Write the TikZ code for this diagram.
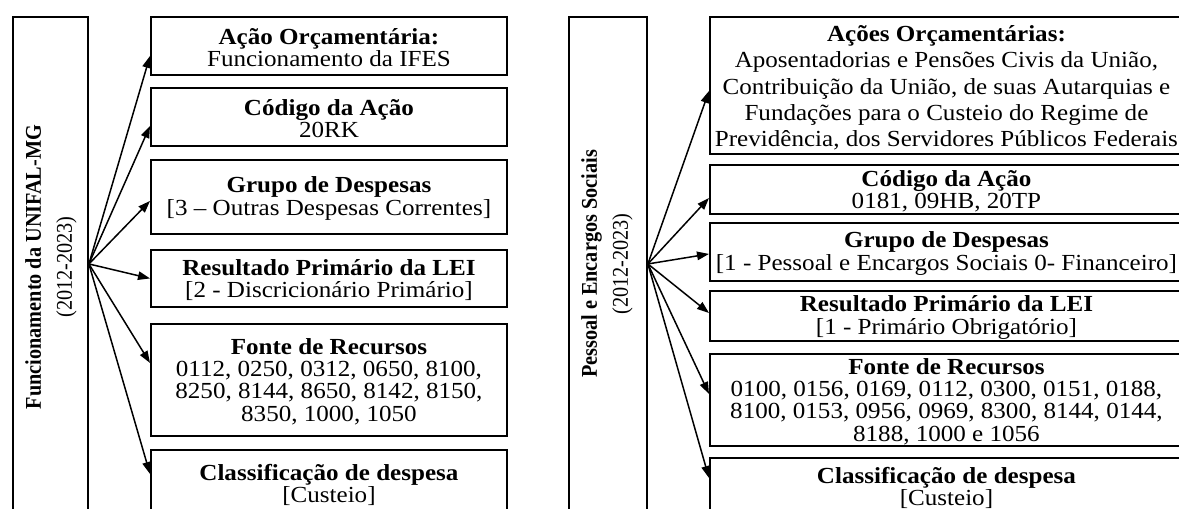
\documentclass[tikz,border=0pt]{standalone}
\usepackage{fontspec}
\setmainfont[FakeStretch=1.09]{Liberation Serif}
\newfontfamily\rotfont[FakeStretch=0.9]{Liberation Serif}
\usetikzlibrary{arrows.meta}
\begin{document}
\begin{tikzpicture}[x=1pt,y=-1pt,
  box/.style={draw, line width=1.9pt, inner sep=0pt, align=center, anchor=north west,
    font=\fontsize{23}{22.3}\selectfont},
  side/.style={rotate=90, align=center, font=\rotfont\fontsize{22.5}{31}\selectfont},
  arr/.style={line width=1.5pt, -{Triangle[length=12pt,width=8.5pt]}}]
\useasboundingbox (0,0) rectangle (1179,509);
\clip (0,0) rectangle (1179,509);
% ---------- left panel ----------
\node[box, minimum width=75pt, minimum height=510pt] (L) at (12,16) {};
\node[side] (Lt) at (51,267) {\textbf{Funcionamento da UNIFAL-MG}\\(2012-2023)};
\node[box, minimum width=356pt, minimum height=58pt] (l1) at (150,16)
  {\rule{0pt}{19pt}\textbf{Ação Orçamentária:}\\Funcionamento da IFES};
\node[box, minimum width=356pt, minimum height=58pt] (l2) at (150,87)
  {\rule{0pt}{19pt}\textbf{Código da Ação}\\20RK};
\node[box, minimum width=356pt, minimum height=74pt] (l3) at (150,159)
  {\rule{0pt}{19pt}\textbf{Grupo de Despesas}\\{[3 – Outras Despesas Correntes]}};
\node[box, minimum width=356pt, minimum height=57pt] (l4) at (150,249)
  {\rule{0pt}{19pt}\textbf{Resultado Primário da LEI}\\{[2 - Discricionário Primário]}};
\node[box, minimum width=356pt, minimum height=112pt] (l5) at (150,323)
  {\rule{0pt}{19pt}\textbf{Fonte de Recursos}\\0112, 0250, 0312, 0650, 8100,\\8250, 8144, 8650, 8142, 8150,\\8350, 1000, 1050};
\node[box, minimum width=356pt, minimum height=67pt] (l6) at (150,449)
  {\rule{0pt}{19pt}\textbf{Classificação de despesa}\\{[Custeio]}};
\coordinate (ls) at ([yshift=8pt]L.east);
\draw[arr] (ls) -- ([yshift=-10pt]l1.west);
\draw[arr] (ls) -- ([yshift=-9pt]l2.west);
\draw[arr] (ls) -- ([yshift=-4pt]l3.west);
\draw[arr] (ls) -- (l4.west);
\draw[arr] (ls) -- ([yshift=17pt]l5.west);
\draw[arr] (ls) -- ([yshift=9.5pt]l6.west);
% ---------- right panel ----------
\node[box, minimum width=78pt, minimum height=510pt] (R) at (568,16) {};
\node[side] (Rt) at (607,264) {\textbf{Pessoal e Encargos Sociais}\\(2012-2023)};
\node[box, minimum width=473pt, minimum height=137pt, font=\fontsize{23}{26.2}\selectfont] (r1) at (709,16)
  {\rule{0pt}{21pt}\textbf{Ações Orçamentárias:}\\Aposentadorias e Pensões Civis da União,\\Contribuição da União, de suas Autarquias e\\Fundações para o Custeio do Regime de\\Previdência, dos Servidores Públicos Federais};
\node[box, minimum width=473pt, minimum height=49pt] (r2) at (709,164)
  {\rule{0pt}{19pt}\textbf{Código da Ação}\\0181, 09HB, 20TP};
\node[box, minimum width=473pt, minimum height=58pt] (r3) at (709,222)
  {\rule{0pt}{19pt}\textbf{Grupo de Despesas}\\{[1 - Pessoal e Encargos Sociais 0- Financeiro]}};
\node[box, minimum width=473pt, minimum height=50pt] (r4) at (709,290)
  {\rule{0pt}{19pt}\textbf{Resultado Primário da LEI}\\{[1 - Primário Obrigatório]}};
\node[box, minimum width=473pt, minimum height=92pt] (r5) at (709,353)
  {\rule{0pt}{19pt}\textbf{Fonte de Recursos}\\0100, 0156, 0169, 0112, 0300, 0151, 0188,\\8100, 0153, 0956, 0969, 8300, 8144, 0144,\\8188, 1000 e 1056};
\node[box, minimum width=473pt, minimum height=57pt] (r6) at (709,457)
  {\rule{0pt}{19pt}\textbf{Classificação de despesa}\\{[Custeio]}};
\coordinate (rs) at ([yshift=8pt]R.east);
\draw[arr] (rs) -- ([yshift=-5.5pt]r1.west);
\draw[arr] (rs) -- ([yshift=-8.5pt]r2.west);
\draw[arr] (rs) -- ([yshift=-2pt]r3.west);
\draw[arr] (rs) -- ([yshift=3pt]r4.west);
\draw[arr] (rs) -- ([yshift=6pt]r5.west);
\draw[arr] (rs) -- ([yshift=8.5pt]r6.west);
\end{tikzpicture}
\end{document}
